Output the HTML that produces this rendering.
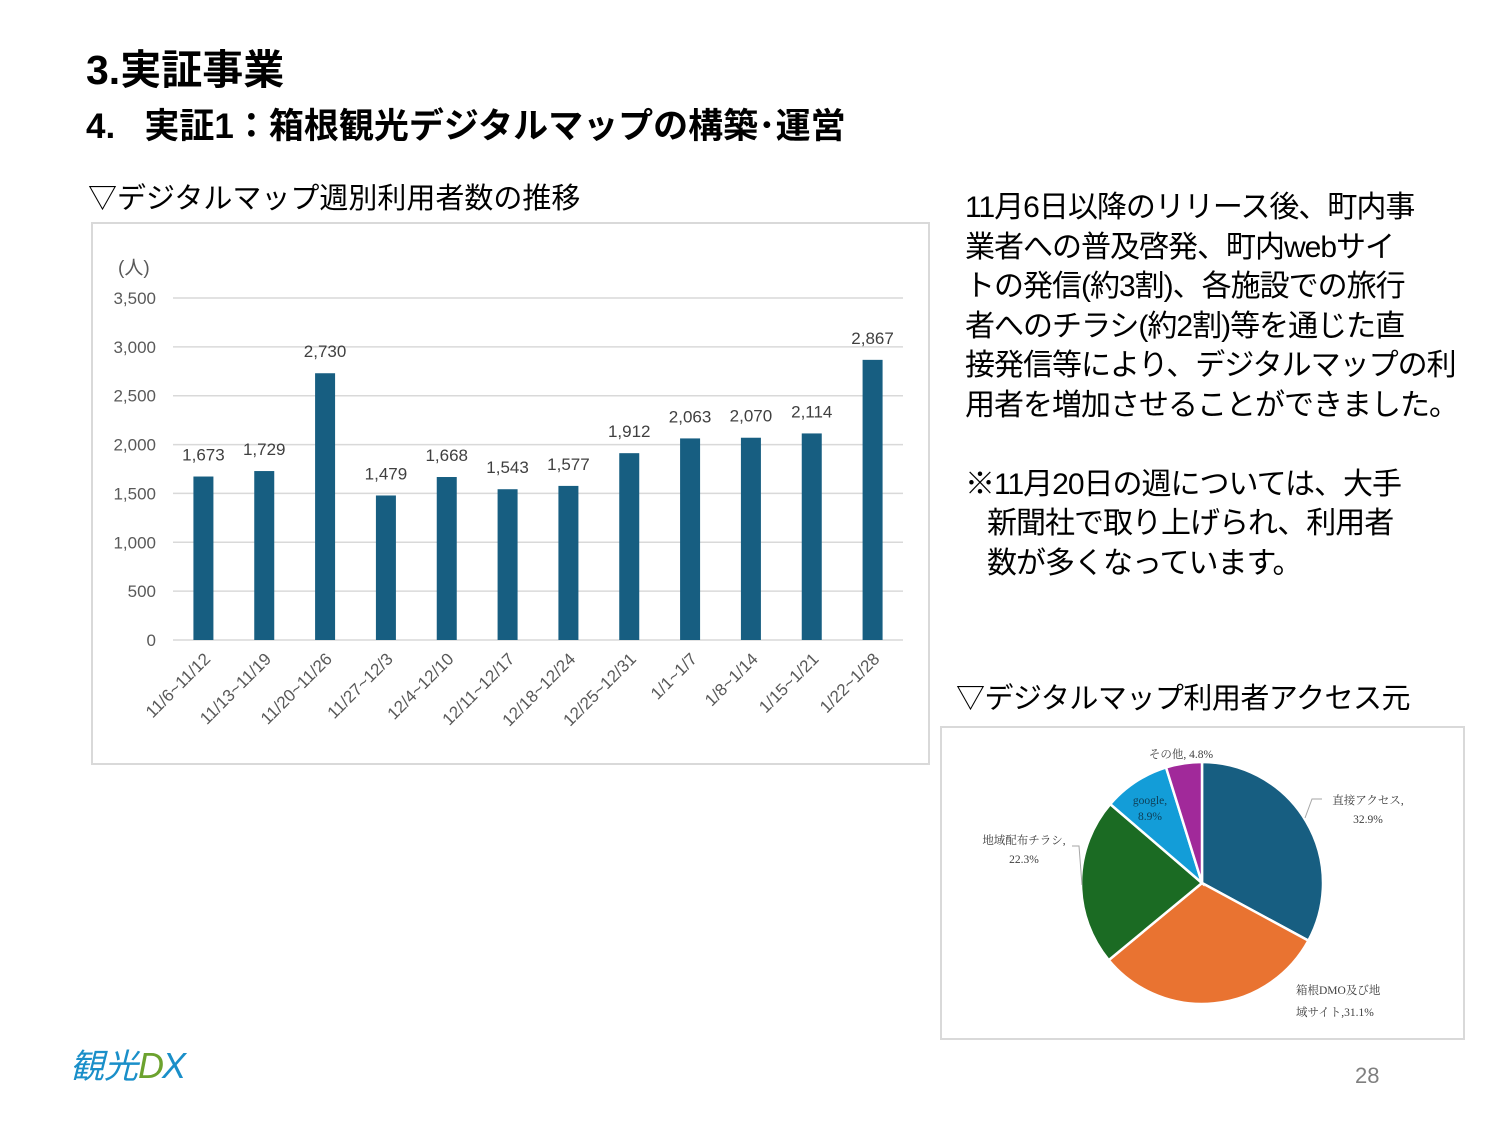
<!DOCTYPE html>
<html><head><meta charset="utf-8">
<style>
body{margin:0;width:1500px;height:1125px;background:#fff;position:relative;overflow:hidden;font-family:"Liberation Sans","Noto Sans CJK JP",sans-serif;color:#000}
.abs{position:absolute}
.t1{left:86px;top:36px;font-size:41px;font-weight:bold}
.t2{left:86px;top:98px;font-size:35px;font-weight:bold}
.t3{left:88px;top:175px;font-size:29px}
.body{left:965px;top:188px;font-size:30px;line-height:39.5px;letter-spacing:-1px}
.t4{left:956px;top:675px;font-size:29px;letter-spacing:-0.5px}
</style></head><body>
<div class="abs t1">3.実証事業</div>
<div class="abs t2">4.&nbsp;&nbsp;&nbsp;実証1：箱根観光デジタルマップの構築･運営</div>
<div class="abs t3">▽デジタルマップ週別利用者数の推移</div>
<div class="abs body">11月6日以降のリリース後、町内事<br>業者への普及啓発、町内webサイ<br>トの発信(約3割)、各施設での旅行<br>者へのチラシ(約2割)等を通じた直<br>接発信等により、デジタルマップの利<br>用者を増加させることができました。<br><br>※11月20日の週については、大手<br>&nbsp;&nbsp;&nbsp;新聞社で取り上げられ、利用者<br>&nbsp;&nbsp;&nbsp;数が多くなっています。</div>
<div class="abs t4">▽デジタルマップ利用者アクセス元</div>

<svg class="abs" style="left:0;top:0" width="1500" height="1125" id="svg">
<rect x="92" y="223" width="837" height="541" fill="none" stroke="#d9d9d9" stroke-width="2"/>
<rect x="941" y="727" width="523" height="312" fill="none" stroke="#d9d9d9" stroke-width="2"/>
<text x="118" y="274" font-size="19" fill="#595959">(人)</text>
<g id="bars"></g>
<g id="pie"></g>
<text x="1355" y="1083" font-size="22" fill="#7f7f7f">28</text>
<g>
<text x="70" y="1078" font-size="34" fill="#1a8fc9" font-style="italic">観光</text>
<text x="138" y="1078" font-size="36" fill="#6ca22e" font-style="italic">D</text>
<text x="162" y="1078" font-size="36" fill="#1a8fc9" font-style="italic">X</text>
</g>
</svg>
<script>
const categories=["11/6~11/12","11/13~11/19","11/20~11/26","11/27~12/3","12/4~12/10","12/11~12/17","12/18~12/24","12/25~12/31","1/1~1/7","1/8~1/14","1/15~1/21","1/22~1/28"];
const values=[1673,1729,2730,1479,1668,1543,1577,1912,2063,2070,2114,2867];
const yTicks=[0,500,1000,1500,2000,2500,3000,3500];
const pieLabels=["直接アクセス","箱根DMO及び地域サイト","地域配布チラシ","google","その他"];
const pieValues=[32.9,31.1,22.3,8.9,4.8];
const pieColors=["#175e81","#e97331","#1b6b23","#139dd8","#a1299a"];
const NS="http://www.w3.org/2000/svg";
function mk(t,a,p){const e=document.createElementNS(NS,t);for(const k in a)e.setAttribute(k,a[k]);p.appendChild(e);return e;}
const L=173,R=903,Y0=640,Y1=298,MAX=3500;
const y=v=>Y0-(v/MAX)*(Y0-Y1);
const slot=(R-L)/categories.length;
const x=i=>L+slot*(i+0.5);
const g=document.getElementById('bars');
yTicks.forEach(t=>{
 const l=mk('line',{x1:L,x2:R,y1:y(t),y2:y(t),stroke:'#d9d9d9','stroke-width':1.5},g);
 
 
 const tx=mk('text',{x:156,y:y(t)+6,'font-size':17,fill:'#595959','text-anchor':'end'},g);
 tx.textContent=t.toLocaleString('en-US');
 
 
});
values.forEach((v,i)=>{
 const r=mk('rect',{x:x(i)-10,y:y(v),width:20,height:Y0-y(v),fill:'#175e81'},g);
 
 
 const t=mk('text',{x:x(i),y:y(v)-16,'font-size':17,fill:'#404040','text-anchor':'middle'},g);
 t.textContent=v.toLocaleString('en-US');
 
 
 const c=mk('text',{x:x(i)+8,y:Y0+20,'font-size':17,fill:'#595959','text-anchor':'end',transform:`rotate(-45 ${x(i)+8} ${Y0+20})`},g);
 c.textContent=categories[i];
 
 
});
const p=document.getElementById('pie');
const cx=1202,cy=883,rad=121;
const tot=pieValues.reduce((a,b)=>a+b,0);
let a0=-Math.PI/2;
pieValues.forEach((v,i)=>{
 const a1=a0+v/tot*2*Math.PI;
 const large=(a1-a0)>Math.PI?1:0;
 const d=`M${cx},${cy}L${cx+rad*Math.cos(a0)},${cy+rad*Math.sin(a0)}A${rad},${rad} 0 ${large} 1 ${cx+rad*Math.cos(a1)},${cy+rad*Math.sin(a1)}Z`;
 const s=mk('path',{d:d,fill:pieColors[i],stroke:'#fff','stroke-width':2.5},p);
 
 
 a0=a1;
});
const lbl=[
 [[1368,804,"直接アクセス,"],[1368,823,"32.9%"]],
 [[1296,994,"箱根DMO及び地"],[1296,1016,"域サイト,31.1%"]],
 [[1024,844,"地域配布チラシ,"],[1024,863,"22.3%"]],
 [[1150,804,"google,"],[1150,820,"8.9%"]],
 [[1181,758,"その他, 4.8%"]]
];
lbl.forEach((ls,i)=>ls.forEach(([lx,ly,tx])=>{
 const t=mk('text',{x:lx,y:ly,'font-size':11.5,fill:i==3?'#0e3d55':'#404040','text-anchor':i==1?'start':'middle','font-family':'"Liberation Serif","Noto Serif CJK SC",serif'},p);
 t.textContent=tx;
 
 
}));
mk('polyline',{points:'1322,799 1312,799 1305,818',fill:'none',stroke:'#a6a6a6'},p);
mk('polyline',{points:'1072,846 1079,846 1082,885',fill:'none',stroke:'#a6a6a6'},p);
</script>
</body></html>
